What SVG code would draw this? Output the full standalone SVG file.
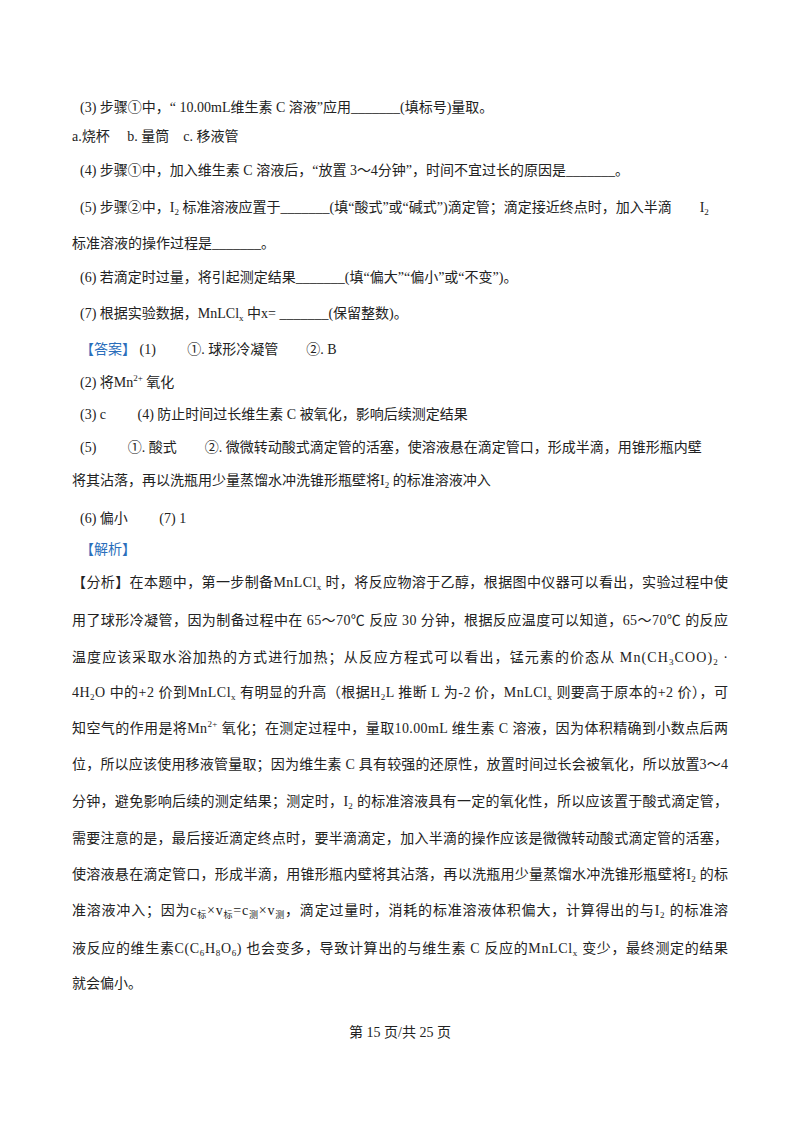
<svg xmlns="http://www.w3.org/2000/svg" width="800" height="1132" viewBox="0 0 800 1132">
<style>
text{font-family:"Liberation Serif","Noto Sans CJK SC",serif;font-size:14px;fill:#222}
.b{fill:#2a6ebb}
.s{font-size:9px}
</style>
<rect width="800" height="1132" fill="#fff"/>
<g id="questions">
<text x="80" y="112">(3) 步骤①中，“ 10.00mL维生素 C 溶液”应用_______(填标号)量取。</text>
<text x="72" y="141">a.烧杯 <tspan dx="14">b. 量筒</tspan><tspan dx="14">c. 移液管</tspan></text>
<text x="80" y="175">(4) 步骤①中，加入维生素 C 溶液后，“放置 3～4分钟”，时间不宜过长的原因是_______。</text>
<text x="80" y="212">(5) 步骤②中，I<tspan class="s" dy="3">2</tspan><tspan dy="-3"> 标准溶液应置于_______(填“酸式”或“碱式”)滴定管；滴定接近终点时，加入半滴　　I</tspan><tspan class="s" dy="3">2</tspan></text>
<text x="72" y="248">标准溶液的操作过程是_______。</text>
<text x="80" y="282">(6) 若滴定时过量，将引起测定结果_______(填“偏大”“偏小”或“不变”)。</text>
<text x="80" y="318">(7) 根据实验数据，MnLCl<tspan class="s" dy="3">x</tspan><tspan dy="-3"> 中x= _______(保留整数)。</tspan></text>
</g>
<g id="answer">
<text x="80" y="354"><tspan class="b">【答案】</tspan> (1)　　 ①. 球形冷凝管　　②. B</text>
<text x="80" y="387">(2) 将Mn<tspan class="s" dy="-6">2+</tspan><tspan dy="6"> 氧化</tspan></text>
<text x="80" y="419">(3) c　　 (4) 防止时间过长维生素 C 被氧化，影响后续测定结果</text>
<text x="80" y="452">(5)　　 ①. 酸式　　②. 微微转动酸式滴定管的活塞，使溶液悬在滴定管口，形成半滴，用锥形瓶内壁</text>
<text x="72" y="485">将其沾落，再以洗瓶用少量蒸馏水冲洗锥形瓶壁将I<tspan class="s" dy="3">2</tspan><tspan dy="-3"> 的标准溶液冲入</tspan></text>
<text x="80" y="523">(6) 偏小　　 (7) 1</text>
<text x="80" y="554" class="b">【解析】</text>
</g>
<g id="analysis">
<text x="72" y="587" textLength="656" lengthAdjust="spacing">【分析】在本题中，第一步制备MnLCl<tspan class="s" dy="3">x</tspan><tspan dy="-3"> 时，将反应物溶于乙醇，根据图中仪器可以看出，实验过程中使</tspan></text>
<text x="72" y="625" textLength="656" lengthAdjust="spacing">用了球形冷凝管，因为制备过程中在 65～70℃ 反应 30 分钟，根据反应温度可以知道，65～70℃ 的反应</text>
<text x="72" y="662" textLength="656" lengthAdjust="spacing">温度应该采取水浴加热的方式进行加热；从反应方程式可以看出，锰元素的价态从 Mn(CH<tspan class="s" dy="3">3</tspan><tspan dy="-3">COO)</tspan><tspan class="s" dy="3">2</tspan><tspan dy="-3"> ·</tspan></text>
<text x="72" y="697" textLength="656" lengthAdjust="spacing">4H<tspan class="s" dy="3">2</tspan><tspan dy="-3">O 中的+2 价到MnLCl</tspan><tspan class="s" dy="3">x</tspan><tspan dy="-3"> 有明显的升高（根据H</tspan><tspan class="s" dy="3">2</tspan><tspan dy="-3">L 推断 L 为-2 价，MnLCl</tspan><tspan class="s" dy="3">x</tspan><tspan dy="-3"> 则要高于原本的+2 价），可</tspan></text>
<text x="72" y="733" textLength="656" lengthAdjust="spacing">知空气的作用是将Mn<tspan class="s" dy="-6">2+</tspan><tspan dy="6"> 氧化；在测定过程中，量取10.00mL 维生素 C 溶液，因为体积精确到小数点后两</tspan></text>
<text x="72" y="769" textLength="656" lengthAdjust="spacing">位，所以应该使用移液管量取；因为维生素 C 具有较强的还原性，放置时间过长会被氧化，所以放置3～4</text>
<text x="72" y="806" textLength="656" lengthAdjust="spacing">分钟，避免影响后续的测定结果；测定时，I<tspan class="s" dy="3">2</tspan><tspan dy="-3"> 的标准溶液具有一定的氧化性，所以应该置于酸式滴定管，</tspan></text>
<text x="72" y="843" textLength="656" lengthAdjust="spacing">需要注意的是，最后接近滴定终点时，要半滴滴定，加入半滴的操作应该是微微转动酸式滴定管的活塞，</text>
<text x="72" y="879" textLength="656" lengthAdjust="spacing">使溶液悬在滴定管口，形成半滴，用锥形瓶内壁将其沾落，再以洗瓶用少量蒸馏水冲洗锥形瓶壁将I<tspan class="s" dy="3">2</tspan><tspan dy="-3"> 的标</tspan></text>
<text x="72" y="915" textLength="656" lengthAdjust="spacing">准溶液冲入；因为c<tspan class="s" dy="3">标</tspan><tspan dy="-3">×v</tspan><tspan class="s" dy="3">标</tspan><tspan dy="-3">=c</tspan><tspan class="s" dy="3">测</tspan><tspan dy="-3">×v</tspan><tspan class="s" dy="3">测</tspan><tspan dy="-3">，滴定过量时，消耗的标准溶液体积偏大，计算得出的与I</tspan><tspan class="s" dy="3">2</tspan><tspan dy="-3"> 的标准溶</tspan></text>
<text x="72" y="953" textLength="656" lengthAdjust="spacing">液反应的维生素C(C<tspan class="s" dy="3">6</tspan><tspan dy="-3">H</tspan><tspan class="s" dy="3">8</tspan><tspan dy="-3">O</tspan><tspan class="s" dy="3">6</tspan><tspan dy="-3">) 也会变多，导致计算出的与维生素 C 反应的MnLCl</tspan><tspan class="s" dy="3">x</tspan><tspan dy="-3"> 变少，最终测定的结果</tspan></text>
<text x="72" y="988">就会偏小。</text>
</g>
<text x="400" y="1037" text-anchor="middle">第 15 页/共 25 页</text>
</svg>
